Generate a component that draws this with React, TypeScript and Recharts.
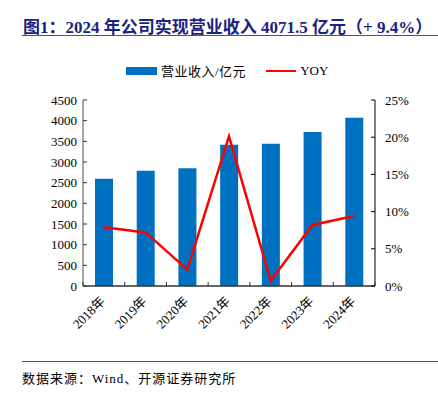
import React from "react";
import { ComposedChart, Bar, Line, XAxis, YAxis } from "recharts";

const years = ["2018年", "2019年", "2020年", "2021年", "2022年", "2023年", "2024年"];
const revenue = [2596, 2790, 2847, 3419, 3443, 3726, 4071.5];
const yoy = [7.9, 7.2, 2.2, 20.1, 0.7, 8.2, 9.4];
const leftTicks = [0, 500, 1000, 1500, 2000, 2500, 3000, 3500, 4000, 4500];
const rightTicks = [0, 5, 10, 15, 20, 25];

const data = years.map((year, i) => ({ year, revenue: revenue[i], yoy: yoy[i] }));

const serif = '"Times New Roman", "Liberation Serif", "Noto Sans CJK SC", serif';
const BAND = 292 / years.length;

function YearTick(props: any) {
  const { x, y, payload, index } = props;
  const axisY = y - 8;
  const left = x - BAND / 2;
  return (
    <g>
      <line x1={left} x2={left} y1={axisY} y2={axisY - 4} stroke="#333" />
      {index === years.length - 1 && (
        <line x1={x + BAND / 2} x2={x + BAND / 2} y1={axisY} y2={axisY - 4} stroke="#333" />
      )}
      <g transform={`translate(${x + 2},${y + 8})`}>
        <text textAnchor="end" transform="rotate(-45)" fontSize={13} fill="#000" fontFamily={serif}>
          {payload.value}
        </text>
      </g>
    </g>
  );
}

export default function App() {
  return (
    <div style={{ position: "absolute", left: 0, top: 0, width: 438, height: 393, background: "#fff", fontFamily: serif }}>
      <div style={{ position: "absolute", left: 23, top: 13, fontSize: 17, fontWeight: "bold", color: "#1a237e", whiteSpace: "nowrap" }}>
        图1：2024 年公司实现营业收入 4071.5 亿元（+ 9.4%）
      </div>
      <div style={{ position: "absolute", left: 22, top: 35, width: 416, height: 1, background: "#555" }} />

      <div style={{ position: "absolute", top: 61, left: 126, display: "flex", alignItems: "center", fontSize: 13, color: "#000" }}>
        <span style={{ display: "inline-block", width: 31, height: 8, background: "#0070C0", marginRight: 4 }} />
        <span style={{ letterSpacing: 0.5 }}>营业收入/亿元</span>
        <span style={{ display: "inline-block", width: 30, height: 2, background: "#FF0000", marginLeft: 20, marginRight: 4 }} />
        <span>YOY</span>
      </div>

      <div style={{ position: "absolute", left: 0, top: 0 }}>
        <ComposedChart width={438} height={393} data={data} margin={{ top: 100, right: 0, bottom: 0, left: 0 }} barSize={18}>
          <XAxis
            dataKey="year"
            height={107}
            tick={<YearTick />}
            tickLine={false}
            axisLine={{ stroke: "#333", strokeWidth: 1.5 }}
            interval={0}
          />
          <YAxis
            yAxisId="left"
            width={83}
            domain={[0, 4500]}
            ticks={leftTicks}
            interval={0}
            tickSize={-4}
            tickMargin={10}
            tick={{ fontSize: 13, fill: "#000", fontFamily: serif }}
            tickLine={{ stroke: "#333" }}
            axisLine={{ stroke: "#888", strokeWidth: 1.5 }}
          />
          <YAxis
            yAxisId="right"
            orientation="right"
            width={63}
            domain={[0, 25]}
            ticks={rightTicks}
            interval={0}
            tickSize={-4}
            tickMargin={14}
            tickFormatter={(v) => `${v}%`}
            tick={{ fontSize: 13, fill: "#000", fontFamily: serif }}
            tickLine={{ stroke: "#000" }}
            axisLine={{ stroke: "#000" }}
          />
          <Bar dataKey="revenue" yAxisId="left" fill="#0070C0" isAnimationActive={false} />
          <Line
            dataKey="yoy"
            yAxisId="right"
            type="linear"
            stroke="#FF0000"
            strokeWidth={2.5}
            dot={false}
            isAnimationActive={false}
          />
        </ComposedChart>
      </div>

      <div style={{ position: "absolute", left: 22, top: 361, width: 416, height: 1, background: "#555" }} />
      <div style={{ position: "absolute", left: 22, top: 368, fontSize: 13, letterSpacing: 1, color: "#000", whiteSpace: "nowrap" }}>
        数据来源：Wind、开源证券研究所
      </div>
    </div>
  );
}
